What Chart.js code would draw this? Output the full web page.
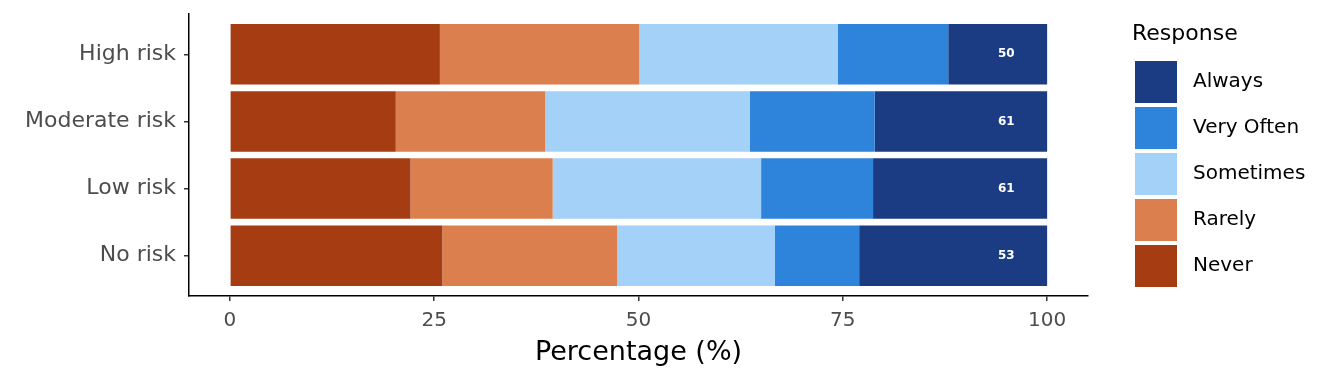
<!DOCTYPE html>
<html>
<head>
<meta charset="utf-8">
<script src="https://cdn.jsdelivr.net/npm/chart.js@4/dist/chart.umd.min.js"></script>
<style>
  html, body { margin: 0; padding: 0; background: #fff; }
  #wrap { width: 1344px; height: 384px; }
</style>
</head>
<body>
<div id="wrap"><canvas id="riskChart" width="1344" height="384"></canvas></div>
<script>
const categories = ['High risk', 'Moderate risk', 'Low risk', 'No risk'];
const responses = ['Never', 'Rarely', 'Sometimes', 'Very Often', 'Always'];

// percentages per risk group
const never = [25.7, 20.3, 22.1, 26.0];
const rarely = [24.4, 18.3, 17.4, 21.4];
const sometimes = [24.3, 25.0, 25.5, 19.3];
const veryOften = [13.5, 15.3, 13.7, 10.3];
const always = [12.1, 21.1, 21.3, 23.0];

const alwaysLabels = [50, 61, 61, 53];
const tickValues = [0, 25, 50, 75, 100];
const labelAt = 95;

const colors = {
  never: '#a63c12',
  rarely: '#db7f4f',
  sometimes: '#a3d1f8',
  veryOften: '#2e83da',
  always: '#1b3c82',
};

const font = "'DejaVu Sans', sans-serif";

function series(label, values, color) {
  return {
    label: label,
    data: values.map((v, i) => ({ x: v, y: i })),
    backgroundColor: color,
    borderWidth: 0,
    barPercentage: 0.9,
    categoryPercentage: 1.0,
  };
}

const datasets = [
  series(responses[0], never, colors.never),
  series(responses[1], rarely, colors.rarely),
  series(responses[2], sometimes, colors.sometimes),
  series(responses[3], veryOften, colors.veryOften),
  series(responses[4], always, colors.always),
];

// white count labels inside the "Always" segment
const countLabels = {
  id: 'countLabels',
  afterDatasetsDraw(chart) {
    const ctx = chart.ctx;
    ctx.save();
    ctx.fillStyle = '#ffffff';
    ctx.font = "bold 12px 'DejaVu Sans', sans-serif";
    ctx.textAlign = 'center';
    ctx.textBaseline = 'middle';
    alwaysLabels.forEach((n, i) => {
      ctx.fillText(String(n), chart.scales.x.getPixelForValue(labelAt), chart.scales.y.getPixelForValue(i));
    });
    ctx.restore();
  }
};

// ggplot-like legend on the right
const sideLegend = {
  id: 'sideLegend',
  afterDraw(chart) {
    const ctx = chart.ctx;
    ctx.save();
    ctx.fillStyle = '#000';
    ctx.font = '22px ' + font;
    ctx.textAlign = 'left';
    ctx.textBaseline = 'middle';
    ctx.fillText('Response', 1132, 34);
    const items = chart.data.datasets.slice().reverse();
    ctx.font = '20px ' + font;
    items.forEach((ds, i) => {
      const top = 61 + i * 46;
      ctx.fillStyle = ds.backgroundColor;
      ctx.fillRect(1135, top, 42, 42);
      ctx.fillStyle = '#000';
      ctx.fillText(ds.label, 1193, top + 21);
    });
    ctx.restore();
  }
};

new Chart(document.getElementById('riskChart'), {
  type: 'bar',
  data: { datasets: datasets },
  options: {
    indexAxis: 'y',
    responsive: false,
    animation: false,
    layout: { padding: { top: 14, right: 256, bottom: 0, left: 0 } },
    plugins: {
      legend: { display: false },
      tooltip: { enabled: false },
    },
    scales: {
      x: {
        type: 'linear',
        stacked: true,
        min: -5,
        max: 105,
        afterBuildTicks: (scale) => { scale.ticks = tickValues.map(v => ({ value: v })); },
        afterFit: (scale) => {
          scale.height = 88;
          scale.paddingLeft = 0;
          scale.paddingRight = 0;
        },
        ticks: { color: '#4d4d4d', font: { family: font, size: 20 }, padding: 8 },
        grid: { drawOnChartArea: false, drawTicks: true, tickLength: 5, color: '#333333', lineWidth: 1.5 },
        border: { display: true, color: '#000000', width: 1.5 },
        title: {
          display: true,
          text: 'Percentage (%)',
          color: '#000000',
          font: { family: font, size: 27 },
          padding: { top: 0, bottom: 15 },
        },
      },
      y: {
        type: 'linear',
        stacked: true,
        reverse: true,
        offset: false,
        min: -0.6,
        max: 3.6,
        afterBuildTicks: (scale) => { scale.ticks = categories.map((c, i) => ({ value: i })); },
        afterFit: (scale) => {
          scale.width = 189;
          scale.paddingTop = 0;
          scale.paddingBottom = 0;
        },
        ticks: {
          color: '#4d4d4d',
          font: { family: font, size: 22 },
          padding: 8,
          callback: (v) => categories[v],
        },
        grid: { offset: false, drawOnChartArea: false, drawTicks: true, tickLength: 5, color: '#333333', lineWidth: 1.5 },
        border: { display: true, color: '#000000', width: 1.5 },
      },
    },
  },
  plugins: [countLabels, sideLegend],
});
</script>
</body>
</html>
